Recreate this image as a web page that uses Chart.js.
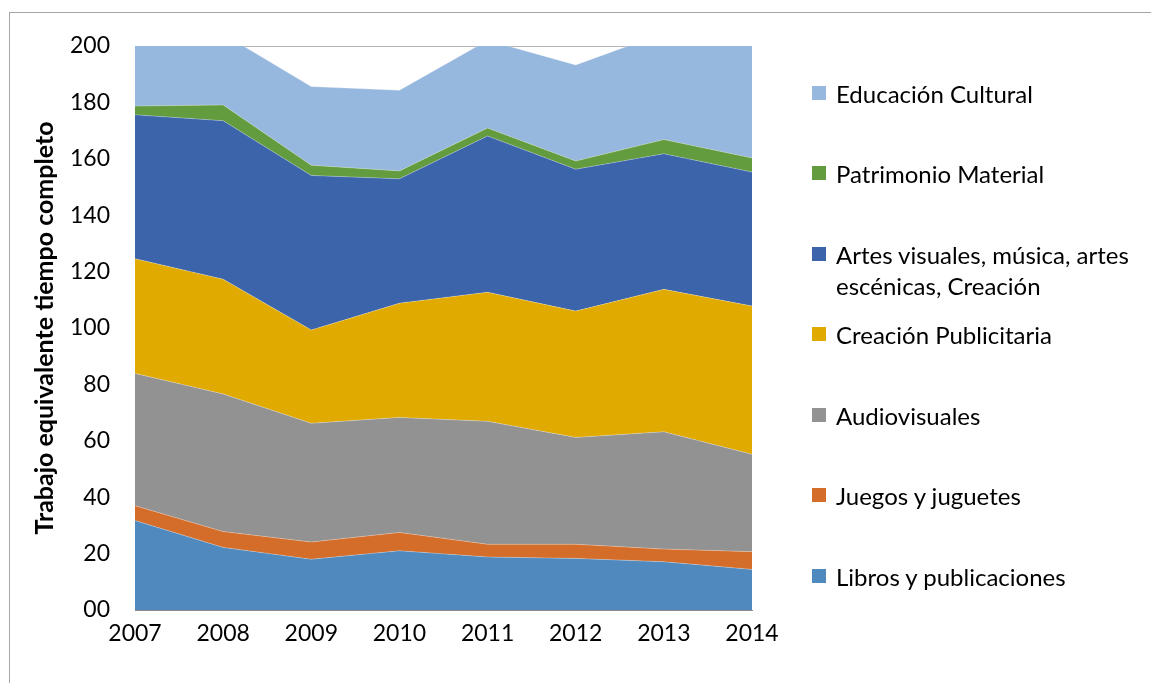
<!DOCTYPE html>
<html>
<head>
<meta charset="utf-8"/>
<style>
  html,body{margin:0;padding:0;background:#fff;overflow:hidden;}
  .wrap{position:relative;width:1151px;height:683px;}
  .frame{position:absolute;left:9px;top:12px;width:1200px;height:700px;border:1px solid #a6a6a6;box-sizing:border-box;}
  canvas{position:absolute;left:0;top:0;}
  .legend{position:absolute;left:812px;top:52.75px;font-family:Lato,sans-serif;font-size:24px;color:#000;}
  .item{position:relative;height:80.5px;box-sizing:border-box;padding-top:24.75px;padding-left:24px;line-height:31px;white-space:nowrap;}
  .sw{position:absolute;left:0;top:33px;width:14px;height:14px;}
</style>
</head>
<body>
<div class="wrap">
  <div class="frame"></div>
  <canvas id="c" width="1151" height="683"></canvas>
  <div class="legend" id="legend"></div>
</div>
<script src="https://cdn.jsdelivr.net/npm/chart.js@4.4.0/dist/chart.umd.min.js"></script>
<script>
  const years        = ['2007','2008','2009','2010','2011','2012','2013','2014'];
  const libros       = [31.7, 22.2, 18.0, 21.0, 18.8, 18.3, 17.1, 14.4];
  const juegos       = [5.3, 5.6, 6.1, 6.5, 4.5, 5.0, 4.5, 6.3];
  const audiovisual  = [46.9, 48.8, 42.1, 40.8, 43.6, 37.9, 41.6, 34.5];
  const publicidad   = [40.7, 40.7, 33.1, 40.5, 45.8, 44.8, 50.5, 52.6];
  const artes        = [51.0, 56.2, 54.8, 44.1, 55.4, 50.3, 48.1, 47.5];
  const patrimonio   = [3.1, 5.6, 3.6, 2.8, 2.8, 2.9, 5.0, 5.0];
  const educacion    = [27.0, 25.2, 27.9, 28.6, 31.1, 34.1, 37.8, 42.0];
  const yTickLabels  = ['00','20','40','60','80','100','120','140','160','180','200'];

  const series = [
    { label:'Libros y publicaciones', data:libros, color:'#4F89BD' },
    { label:'Juegos y juguetes', data:juegos, color:'#D46D2A' },
    { label:'Audiovisuales', data:audiovisual, color:'#929292' },
    { label:'Creación Publicitaria', data:publicidad, color:'#E1AA00' },
    { label:['Artes visuales, música, artes','escénicas, Creación'], data:artes, color:'#3B64AB' },
    { label:'Patrimonio Material', data:patrimonio, color:'#639B3F' },
    { label:'Educación Cultural', data:educacion, color:'#97B8DE' }
  ];

  const FONT = 'Lato, sans-serif';

  new Chart(document.getElementById('c'), {
    type:'line',
    data:{
      labels: years,
      datasets: series.map((s, i) => ({
        label: Array.isArray(s.label) ? s.label.join(' ') : s.label,
        data: s.data,
        backgroundColor: s.color,
        borderColor: 'rgba(255,255,255,0.35)',
        borderWidth: 0.8,
        pointRadius: 0,
        tension: 0,
        fill: i === 0 ? 'origin' : '-1'
      }))
    },
    options:{
      responsive:false, animation:false,
      layout:{ padding:{ left:30, right:399, top:46, bottom:23 } },
      plugins:{ legend:{display:false}, tooltip:{enabled:false} },
      scales:{
        x:{
          grid:{display:false, drawTicks:false},
          border:{display:true, color:'#8c8c8c', width:1},
          ticks:{color:'#000', font:{family:FONT, size:23}, padding:10, maxRotation:0, autoSkip:false},
          afterFit: sc => { sc.height = 50; }
        },
        y:{
          stacked:true, min:0, max:200,
          grid:{color:'#b4b4b4', drawTicks:false},
          border:{display:true, color:'#8c8c8c', width:1},
          ticks:{ stepSize:20, color:'#000', font:{family:FONT, size:23}, padding:25,
                  callback:(v) => yTickLabels[Math.round(v/20)] },
          title:{ display:true, text:'Trabajo equivalente tiempo completo', color:'#000',
                  font:{family:FONT, size:25, weight:'bold'}, padding:{top:0, bottom:0} },
          afterFit: sc => { sc.width = 105; }
        }
      }
    }
  });

  // leyenda en orden inverso, como en Excel
  const leg = document.getElementById('legend');
  series.slice().reverse().forEach(s => {
    const it = document.createElement('div');
    it.className = 'item';
    const sw = document.createElement('span');
    sw.className = 'sw';
    sw.style.background = s.color;
    it.appendChild(sw);
    (Array.isArray(s.label) ? s.label : [s.label]).forEach(line => {
      const d = document.createElement('div');
      d.textContent = line;
      it.appendChild(d);
    });
    leg.appendChild(it);
  });
</script>
</body>
</html>
